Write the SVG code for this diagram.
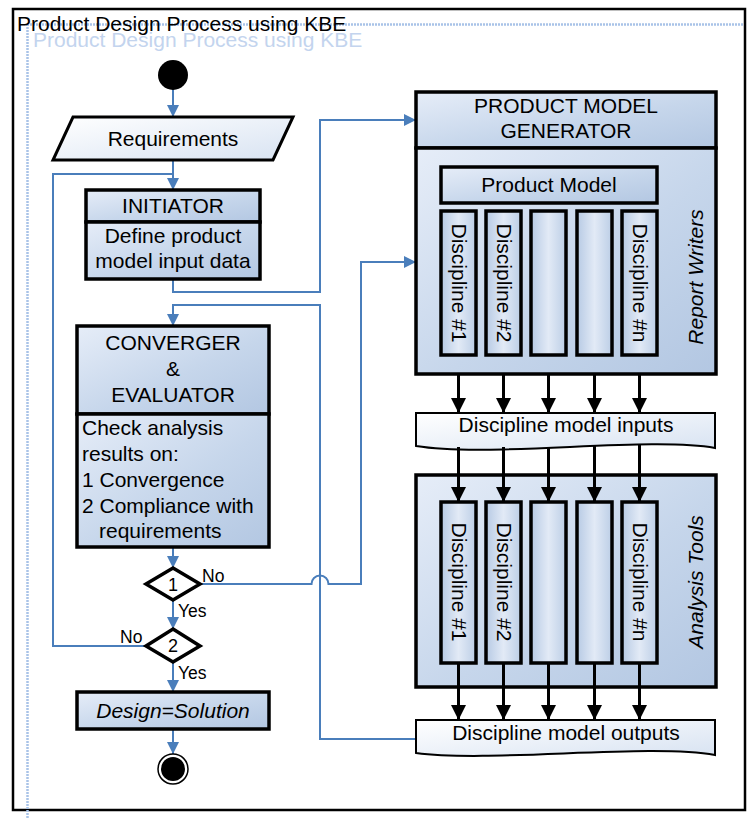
<svg xmlns="http://www.w3.org/2000/svg" width="747" height="818" viewBox="0 0 747 818">
<style>
text{font-family:"Liberation Sans",Arial,sans-serif;font-size:21px;fill:#000}
.c{text-anchor:middle}
.it{font-style:italic}
.lbl{font-size:17.5px}
.box{stroke:#000;stroke-width:3.5;fill:url(#bg)}
.col{stroke:#000;stroke-width:3.5;fill:url(#cg)}
.doc{stroke:#000;stroke-width:2;fill:url(#dg)}
.blue{fill:none;stroke:#4a7ebb;stroke-width:2}
.blk{fill:none;stroke:#000;stroke-width:3}
.dot{fill:none;stroke:#a9c3e8;stroke-width:2.5;stroke-dasharray:2 1}
</style>
<defs>
<linearGradient id="bg" x1="0" y1="0" x2="1" y2="1">
<stop offset="0" stop-color="#e6edf8"/>
<stop offset="0.55" stop-color="#c6d6eb"/>
<stop offset="1" stop-color="#b3c7e2"/>
</linearGradient>
<linearGradient id="cg" x1="0" y1="0" x2="1" y2="0">
<stop offset="0" stop-color="#b7cae4"/>
<stop offset="0.5" stop-color="#e2eaf6"/>
<stop offset="1" stop-color="#bccee6"/>
</linearGradient>
<linearGradient id="dg" x1="0" y1="0" x2="1" y2="1">
<stop offset="0" stop-color="#ffffff"/>
<stop offset="1" stop-color="#d8e3f2"/>
</linearGradient>
<marker id="ab" markerUnits="userSpaceOnUse" markerWidth="12" markerHeight="12" refX="12" refY="6" orient="auto">
<path d="M0,0 L12,6 L0,12 z" fill="#4a7ebb"/>
</marker>
<marker id="ak" markerUnits="userSpaceOnUse" markerWidth="16" markerHeight="16" refX="15" refY="7.5" orient="auto">
<path d="M0,0 L15,7.5 L0,15 z" fill="#000"/>
</marker>
</defs>
<rect width="747" height="818" fill="#fff"/>
<g id="frame">
<rect x="13" y="9" width="732" height="801" fill="none" stroke="#000" stroke-width="2.5"/>
<line class="dot" x1="27" y1="24.5" x2="744" y2="24.5"/>
<line class="dot" x1="27.5" y1="24" x2="27.5" y2="818"/>
<text x="17" y="31">Product Design Process using KBE</text>
<text x="33" y="47" style="fill:#c3d4ee">Product Design Process using KBE</text>
</g>
<g id="connectors">
<line class="blue" x1="173" y1="89" x2="173" y2="117" marker-end="url(#ab)"/>
<line class="blue" x1="173" y1="160" x2="173" y2="190" marker-end="url(#ab)"/>
<polyline class="blue" points="146,646 53,646 53,174 173,174"/>
<polyline class="blue" points="173,279 173,292 320,292 320,120 416,120" marker-end="url(#ab)"/>
<polyline class="blue" points="416,739 320,739 320,305 173,305 173,326" marker-end="url(#ab)"/>
<line class="blue" x1="173" y1="547" x2="173" y2="568" marker-end="url(#ab)"/>
<path class="blue" d="M200,584 H311.5 A8.5,8.5 0 0 1 328.5,584 H361 V262 H416" marker-end="url(#ab)"/>
<line class="blue" x1="173" y1="600" x2="173" y2="629" marker-end="url(#ab)"/>
<line class="blue" x1="173" y1="662" x2="173" y2="692" marker-end="url(#ab)"/>
<line class="blue" x1="173" y1="729" x2="173" y2="754" marker-end="url(#ab)"/>
<g id="black-arrows">
<line class="blk" x1="458.5" y1="355" x2="458.5" y2="413" marker-end="url(#ak)"/>
<line class="blk" x1="503.5" y1="355" x2="503.5" y2="413" marker-end="url(#ak)"/>
<line class="blk" x1="548.5" y1="355" x2="548.5" y2="413" marker-end="url(#ak)"/>
<line class="blk" x1="594.5" y1="355" x2="594.5" y2="413" marker-end="url(#ak)"/>
<line class="blk" x1="639.5" y1="355" x2="639.5" y2="413" marker-end="url(#ak)"/>
</g>
</g>
<g id="start"><circle cx="173" cy="75" r="15" fill="#000"/></g>
<g id="requirements">
<polygon points="73,117 293,117 273,160 53,160" fill="url(#dg)" stroke="#000" stroke-width="3"/>
<text class="c" x="173" y="146">Requirements</text>
</g>
<g id="initiator">
<rect class="box" x="86" y="190" width="174" height="32"/>
<rect class="box" x="86" y="222" width="174" height="57"/>
<text class="c" x="173" y="213">INITIATOR</text>
<text class="c" x="173" y="243">Define product</text>
<text class="c" x="173" y="268">model input data</text>
</g>
<g id="converger">
<rect class="box" x="77" y="326" width="192" height="88"/>
<rect class="box" x="77" y="414" width="192" height="133"/>
<text class="c" x="173" y="350">CONVERGER</text>
<text class="c" x="173" y="376">&amp;</text>
<text class="c" x="173" y="402">EVALUATOR</text>
<text x="82" y="435">Check analysis</text>
<text x="82" y="461">results on:</text>
<text x="82" y="487">1 Convergence</text>
<text x="82" y="513">2 Compliance with</text>
<text x="99" y="538">requirements</text>
</g>
<g id="decision1">
<polygon points="173,568 200,584 173,600 146,584" fill="#fff" stroke="#000" stroke-width="3.5"/>
<text class="c" x="173" y="591" style="font-size:18px">1</text>
<text class="lbl" x="202" y="582">No</text>
<text class="lbl" x="178" y="617">Yes</text>
</g>
<g id="decision2">
<polygon points="173,629 200,646 173,662 146,646" fill="#fff" stroke="#000" stroke-width="3.5"/>
<text class="c" x="173" y="652" style="font-size:18px">2</text>
<text class="lbl" x="120" y="643">No</text>
<text class="lbl" x="178" y="679">Yes</text>
</g>
<g id="solution">
<rect class="box" x="77" y="692" width="192" height="37"/>
<text class="c it" x="173" y="718">Design=Solution</text>
</g>
<g id="end">
<circle cx="173" cy="769" r="15" fill="#fff" stroke="#000" stroke-width="1.5"/>
<circle cx="173" cy="769" r="12" fill="#000"/>
</g>
<g id="generator">
<rect class="box" x="416" y="92" width="300" height="56"/>
<rect class="box" x="416" y="148" width="300" height="226"/>
<text class="c" x="566" y="113">PRODUCT MODEL</text>
<text class="c" x="566" y="138">GENERATOR</text>
<rect class="box" x="441" y="167" width="216" height="36"/>
<text class="c" x="549" y="192">Product Model</text>
<rect class="col" x="441" y="211" width="35" height="144"/>
<rect class="col" x="486" y="211" width="35" height="144"/>
<rect class="col" x="531" y="211" width="35" height="144"/>
<rect class="col" x="577" y="211" width="35" height="144"/>
<rect class="col" x="622" y="211" width="35" height="144"/>
<text class="c" transform="translate(458.5,283) rotate(90)" y="7">Discipline #1</text>
<text class="c" transform="translate(503.5,283) rotate(90)" y="7">Discipline #2</text>
<text class="c" transform="translate(639.5,283) rotate(90)" y="7">Discipline #n</text>
<text class="c it" transform="translate(696,277) rotate(-90)" y="7">Report Writers</text>
</g>
<g id="inputs">
<path class="doc" d="M416,413 H715 V448 C650,436 490,458 416,446 Z"/>
<text class="c" x="566" y="432">Discipline model inputs</text>
</g>
<g id="analysis">
<rect class="box" x="416" y="475" width="300" height="212"/>
<rect class="col" x="441" y="502" width="35" height="161"/>
<rect class="col" x="486" y="502" width="35" height="161"/>
<rect class="col" x="531" y="502" width="35" height="161"/>
<rect class="col" x="577" y="502" width="35" height="161"/>
<rect class="col" x="622" y="502" width="35" height="161"/>
<text class="c" transform="translate(458.5,582) rotate(90)" y="7">Discipline #1</text>
<text class="c" transform="translate(503.5,582) rotate(90)" y="7">Discipline #2</text>
<text class="c" transform="translate(639.5,582) rotate(90)" y="7">Discipline #n</text>
<text class="c it" transform="translate(696,582) rotate(-90)" y="7">Analysis Tools</text>
</g>
<g id="arrows-through">
<line class="blk" x1="458.5" y1="447" x2="458.5" y2="502" marker-end="url(#ak)"/>
<line class="blk" x1="503.5" y1="447" x2="503.5" y2="502" marker-end="url(#ak)"/>
<line class="blk" x1="548.5" y1="447" x2="548.5" y2="502" marker-end="url(#ak)"/>
<line class="blk" x1="594.5" y1="445" x2="594.5" y2="502" marker-end="url(#ak)"/>
<line class="blk" x1="639.5" y1="444" x2="639.5" y2="502" marker-end="url(#ak)"/>
<line class="blk" x1="458.5" y1="663" x2="458.5" y2="720" marker-end="url(#ak)"/>
<line class="blk" x1="503.5" y1="663" x2="503.5" y2="720" marker-end="url(#ak)"/>
<line class="blk" x1="548.5" y1="663" x2="548.5" y2="720" marker-end="url(#ak)"/>
<line class="blk" x1="594.5" y1="663" x2="594.5" y2="720" marker-end="url(#ak)"/>
<line class="blk" x1="639.5" y1="663" x2="639.5" y2="720" marker-end="url(#ak)"/>
</g>
<g id="outputs">
<path class="doc" d="M416,720 H715 V755 C650,743 490,763 416,753 Z"/>
<text class="c" x="566" y="740">Discipline model outputs</text>
</g>
</svg>
